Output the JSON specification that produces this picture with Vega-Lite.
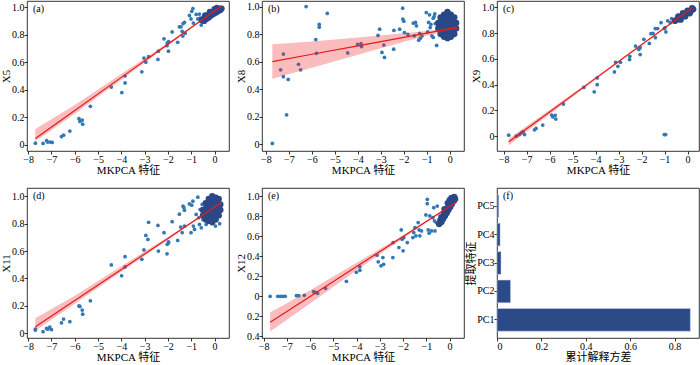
{
"$schema":"https://vega.github.io/schema/vega-lite/v6.json",
"padding":{"left":0,"top":0,"right":0,"bottom":0},
"bounds":"flush",
"columns":3,
"spacing":{"row":37,"column":33},
"config":{
"font":"'Liberation Serif', 'Noto Sans CJK SC', serif",
"view":{"stroke":"#000","strokeWidth":0.8},
"axis":{"domain":false,"grid":false,"tickSize":3,"tickColor":"#000","tickWidth":0.8,"labelFontSize":10,"labelColor":"#000","titleFontSize":11,"titleFontWeight":"normal","titleColor":"#000","labelPadding":0,"titlePadding":0,"labelFont":"'Liberation Serif', serif","titleFont":"'Liberation Serif', 'Noto Sans CJK SC', serif"},
"axisY":{"titlePadding":0},
"title":{"anchor":"start","frame":"group","offset":-13,"dx":6,"fontSize":10,"fontWeight":"normal","color":"#000","font":"'Liberation Serif', serif"}
},
"datasets":{
"ap":[
{"x":-7.69,"y":0.012,"g":"s"},{"x":-7.36,"y":0.01,"g":"s"},{"x":-7.21,"y":0.03,"g":"s"},{"x":-7.16,"y":0.02,"g":"s"},{"x":-7.04,"y":0.02,"g":"s"},{"x":-6.97,"y":0.017,"g":"s"},{"x":-6.57,"y":0.06,"g":"s"},{"x":-6.48,"y":0.07,"g":"s"},{"x":-6.21,"y":0.1,"g":"s"},{"x":-5.82,"y":0.19,"g":"s"},{"x":-5.78,"y":0.17,"g":"s"},{"x":-5.68,"y":0.18,"g":"s"},{"x":-5.66,"y":0.15,"g":"s"},{"x":-5.33,"y":0.28,"g":"s"},{"x":-4.43,"y":0.42,"g":"s"},{"x":-3.98,"y":0.38,"g":"s"},{"x":-3.84,"y":0.5,"g":"s"},{"x":-3.84,"y":0.45,"g":"s"},{"x":-3.12,"y":0.53,"g":"s"},{"x":-3.03,"y":0.63,"g":"s"},{"x":-2.95,"y":0.6,"g":"s"},{"x":-2.83,"y":0.64,"g":"s"},{"x":-2.43,"y":0.62,"g":"s"},{"x":-2.41,"y":0.68,"g":"s"},{"x":-2.17,"y":0.77,"g":"s"},{"x":-2.04,"y":0.72,"g":"s"},{"x":-2.03,"y":0.74,"g":"s"},{"x":-1.98,"y":0.68,"g":"s"},{"x":-1.97,"y":0.75,"g":"s"},{"x":-1.82,"y":0.82,"g":"s"},{"x":-1.58,"y":0.745,"g":"s"},{"x":-1.51,"y":0.857,"g":"s"},{"x":-1.44,"y":0.857,"g":"s"},{"x":-1.39,"y":0.825,"g":"s"},{"x":-1.36,"y":0.79,"g":"s"},{"x":-1.35,"y":0.88,"g":"s"},{"x":-1.29,"y":0.89,"g":"s"},{"x":-1.26,"y":0.81,"g":"s"},{"x":-1.08,"y":0.94,"g":"s"},{"x":-1.01,"y":0.915,"g":"s"},{"x":-0.98,"y":0.97,"g":"s"},{"x":-0.93,"y":0.99,"g":"s"},{"x":-0.91,"y":0.885,"g":"s"},{"x":-0.79,"y":0.947,"g":"s"},{"x":-0.72,"y":0.915,"g":"s"},{"x":-0.62,"y":0.92,"g":"s"},{"x":-0.57,"y":0.87,"g":"s"},{"x":-0.65,"y":0.95,"g":"s"},
{"x":-0.55,"y":0.905,"g":"c"},{"x":-0.45,"y":0.92,"g":"c"},{"x":-0.45,"y":0.9,"g":"c"},{"x":-0.35,"y":0.93,"g":"c"},{"x":-0.35,"y":0.915,"g":"c"},{"x":-0.25,"y":0.945,"g":"c"},{"x":-0.25,"y":0.925,"g":"c"},{"x":-0.15,"y":0.955,"g":"c"},{"x":-0.15,"y":0.94,"g":"c"},{"x":-0.05,"y":0.965,"g":"c"},{"x":-0.05,"y":0.95,"g":"c"},{"x":0.05,"y":0.975,"g":"c"},{"x":0.05,"y":0.96,"g":"c"},{"x":0.15,"y":0.985,"g":"c"},{"x":0.15,"y":0.97,"g":"c"},{"x":0.25,"y":0.99,"g":"c"},{"x":0.25,"y":0.98,"g":"c"},{"x":-0.4,"y":0.94,"g":"c"},{"x":-0.2,"y":0.965,"g":"c"},{"x":0.0,"y":0.985,"g":"c"},{"x":0.1,"y":0.995,"g":"c"},{"x":0.3,"y":0.99,"g":"c"}
],
"af":[
{"x":-7.69,"y":0.046,"lo":0.025,"hi":0.115},{"x":-6,"y":0.25,"lo":0.225,"hi":0.29},{"x":-4,"y":0.49,"lo":0.472,"hi":0.515},{"x":-2,"y":0.731,"lo":0.722,"hi":0.742},{"x":-1,"y":0.852,"lo":0.846,"hi":0.858},{"x":0,"y":0.972,"lo":0.966,"hi":0.978},{"x":0.29,"y":1.007,"lo":1.0,"hi":1.013}
],
"bp":[
{"x":-7.72,"y":0.005,"g":"s"},{"x":-7.36,"y":0.54,"g":"s"},{"x":-7.24,"y":0.49,"g":"s"},{"x":-7.24,"y":0.654,"g":"s"},{"x":-7.1,"y":0.213,"g":"s"},{"x":-7.03,"y":0.47,"g":"s"},{"x":-6.58,"y":0.58,"g":"s"},{"x":-6.49,"y":0.54,"g":"s"},{"x":-6.25,"y":1.0,"g":"s"},{"x":-5.83,"y":0.76,"g":"s"},{"x":-5.8,"y":0.66,"g":"s"},{"x":-5.68,"y":0.87,"g":"s"},{"x":-5.68,"y":0.85,"g":"s"},{"x":-5.33,"y":0.95,"g":"s"},{"x":-4.44,"y":0.663,"g":"s"},{"x":-4.01,"y":0.724,"g":"s"},{"x":-3.86,"y":0.731,"g":"s"},{"x":-3.84,"y":0.709,"g":"s"},{"x":-3.12,"y":0.79,"g":"s"},{"x":-3.05,"y":0.835,"g":"s"},{"x":-2.95,"y":0.666,"g":"s"},{"x":-2.87,"y":0.72,"g":"s"},{"x":-2.84,"y":0.63,"g":"s"},{"x":-2.44,"y":0.69,"g":"s"},{"x":-2.43,"y":0.826,"g":"s"},{"x":-2.18,"y":0.835,"g":"s"},{"x":-2.05,"y":0.988,"g":"s"},{"x":-2.04,"y":0.908,"g":"s"},{"x":-2.0,"y":0.893,"g":"s"},{"x":-1.97,"y":0.811,"g":"s"},{"x":-1.82,"y":0.797,"g":"s"},{"x":-1.58,"y":0.879,"g":"s"},{"x":-1.49,"y":0.884,"g":"s"},{"x":-1.54,"y":0.787,"g":"s"},{"x":-1.45,"y":0.86,"g":"s"},{"x":-1.35,"y":0.755,"g":"s"},{"x":-1.31,"y":0.804,"g":"s"},{"x":-1.28,"y":0.77,"g":"s"},{"x":-1.21,"y":0.785,"g":"s"},{"x":-1.02,"y":0.956,"g":"s"},{"x":-0.96,"y":0.816,"g":"s"},{"x":-0.92,"y":0.884,"g":"s"},{"x":-0.88,"y":0.94,"g":"s"},{"x":-0.85,"y":0.847,"g":"s"},{"x":-0.78,"y":0.787,"g":"s"},{"x":-0.72,"y":0.775,"g":"s"},{"x":-0.68,"y":0.927,"g":"s"},{"x":-0.65,"y":0.947,"g":"s"},{"x":-0.63,"y":0.876,"g":"s"},{"x":-0.57,"y":0.717,"g":"s"},{"x":-0.53,"y":0.86,"g":"s"},{"x":-0.46,"y":0.889,"g":"s"},{"x":-0.82,"y":0.87,"g":"s"},{"x":-0.72,"y":0.915,"g":"s"},
{"x":-0.5,"y":0.84,"g":"c"},{"x":-0.5,"y":0.88,"g":"c"},{"x":-0.4,"y":0.8,"g":"c"},{"x":-0.4,"y":0.84,"g":"c"},{"x":-0.4,"y":0.88,"g":"c"},{"x":-0.4,"y":0.92,"g":"c"},{"x":-0.25,"y":0.78,"g":"c"},{"x":-0.25,"y":0.82,"g":"c"},{"x":-0.25,"y":0.86,"g":"c"},{"x":-0.25,"y":0.9,"g":"c"},{"x":-0.25,"y":0.94,"g":"c"},{"x":-0.1,"y":0.77,"g":"c"},{"x":-0.1,"y":0.81,"g":"c"},{"x":-0.1,"y":0.85,"g":"c"},{"x":-0.1,"y":0.89,"g":"c"},{"x":-0.1,"y":0.93,"g":"c"},{"x":-0.1,"y":0.96,"g":"c"},{"x":0.05,"y":0.78,"g":"c"},{"x":0.05,"y":0.82,"g":"c"},{"x":0.05,"y":0.86,"g":"c"},{"x":0.05,"y":0.9,"g":"c"},{"x":0.05,"y":0.94,"g":"c"},{"x":0.2,"y":0.8,"g":"c"},{"x":0.2,"y":0.84,"g":"c"},{"x":0.2,"y":0.88,"g":"c"},{"x":0.2,"y":0.92,"g":"c"},{"x":0.28,"y":0.84,"g":"c"},{"x":0.28,"y":0.88,"g":"c"}
],
"bf":[
{"x":-7.72,"y":0.6,"lo":0.475,"hi":0.725},{"x":-6,"y":0.653,"lo":0.555,"hi":0.745},{"x":-4,"y":0.714,"lo":0.65,"hi":0.775},{"x":-2,"y":0.776,"lo":0.743,"hi":0.806},{"x":-1,"y":0.806,"lo":0.788,"hi":0.822},{"x":0,"y":0.837,"lo":0.828,"hi":0.846},{"x":0.33,"y":0.847,"lo":0.834,"hi":0.858}
],
"cp":[
{"x":-7.78,"y":0.008,"g":"s"},{"x":-7.45,"y":0.0,"g":"s"},{"x":-7.32,"y":0.013,"g":"s"},{"x":-7.23,"y":0.026,"g":"s"},{"x":-7.16,"y":0.034,"g":"s"},{"x":-7.09,"y":0.013,"g":"s"},{"x":-6.66,"y":0.05,"g":"s"},{"x":-6.59,"y":0.06,"g":"s"},{"x":-6.3,"y":0.086,"g":"s"},{"x":-5.91,"y":0.164,"g":"s"},{"x":-5.86,"y":0.15,"g":"s"},{"x":-5.76,"y":0.162,"g":"s"},{"x":-5.73,"y":0.133,"g":"s"},{"x":-5.4,"y":0.25,"g":"s"},{"x":-4.51,"y":0.379,"g":"s"},{"x":-4.06,"y":0.345,"g":"s"},{"x":-3.93,"y":0.452,"g":"s"},{"x":-3.93,"y":0.4,"g":"s"},{"x":-3.18,"y":0.499,"g":"s"},{"x":-3.13,"y":0.574,"g":"s"},{"x":-3.03,"y":0.543,"g":"s"},{"x":-2.92,"y":0.574,"g":"s"},{"x":-2.52,"y":0.595,"g":"s"},{"x":-2.51,"y":0.62,"g":"s"},{"x":-2.26,"y":0.7,"g":"s"},{"x":-2.12,"y":0.674,"g":"s"},{"x":-2.06,"y":0.687,"g":"s"},{"x":-2.06,"y":0.634,"g":"s"},{"x":-1.9,"y":0.752,"g":"s"},{"x":-1.66,"y":0.72,"g":"s"},{"x":-1.59,"y":0.796,"g":"s"},{"x":-1.5,"y":0.799,"g":"s"},{"x":-1.4,"y":0.765,"g":"s"},{"x":-1.4,"y":0.836,"g":"s"},{"x":-1.3,"y":0.836,"g":"s"},{"x":-1.15,"y":0.882,"g":"s"},{"x":-1.01,"y":0.836,"g":"s"},{"x":-0.98,"y":0.843,"g":"s"},{"x":-0.94,"y":0.81,"g":"s"},{"x":-1.01,"y":0.013,"g":"s"},{"x":-0.95,"y":0.013,"g":"s"},{"x":-0.86,"y":0.896,"g":"s"},{"x":-0.75,"y":0.882,"g":"s"},{"x":-0.69,"y":0.914,"g":"s"},
{"x":-0.55,"y":0.895,"g":"c"},{"x":-0.45,"y":0.907,"g":"c"},{"x":-0.35,"y":0.92,"g":"c"},{"x":-0.25,"y":0.93,"g":"c"},{"x":-0.15,"y":0.94,"g":"c"},{"x":-0.05,"y":0.955,"g":"c"},{"x":0.05,"y":0.965,"g":"c"},{"x":0.15,"y":0.975,"g":"c"},{"x":0.25,"y":0.985,"g":"c"},{"x":-0.4,"y":0.93,"g":"c"},{"x":-0.2,"y":0.955,"g":"c"},{"x":0.0,"y":0.975,"g":"c"},{"x":0.2,"y":0.995,"g":"c"},{"x":-0.3,"y":0.905,"g":"c"},{"x":-0.1,"y":0.93,"g":"c"},{"x":0.1,"y":0.955,"g":"c"}
],
"cf":[
{"x":-7.78,"y":-0.044,"lo":-0.07,"hi":-0.02},{"x":-6,"y":0.188,"lo":0.17,"hi":0.205},{"x":-4,"y":0.449,"lo":0.44,"hi":0.46},{"x":-2,"y":0.71,"lo":0.705,"hi":0.716},{"x":-1,"y":0.84,"lo":0.836,"hi":0.845},{"x":0,"y":0.971,"lo":0.967,"hi":0.975},{"x":0.22,"y":1.0,"lo":0.995,"hi":1.005}
],
"dp":[
{"x":-7.69,"y":0.024,"g":"s"},{"x":-7.69,"y":0.03,"g":"s"},{"x":-7.36,"y":0.012,"g":"s"},{"x":-7.21,"y":0.036,"g":"s"},{"x":-7.16,"y":0.03,"g":"s"},{"x":-7.07,"y":0.046,"g":"s"},{"x":-7.0,"y":0.027,"g":"s"},{"x":-6.57,"y":0.077,"g":"s"},{"x":-6.48,"y":0.104,"g":"s"},{"x":-6.21,"y":0.085,"g":"s"},{"x":-5.82,"y":0.2,"g":"s"},{"x":-5.78,"y":0.196,"g":"s"},{"x":-5.68,"y":0.17,"g":"s"},{"x":-5.66,"y":0.14,"g":"s"},{"x":-5.33,"y":0.237,"g":"s"},{"x":-4.43,"y":0.499,"g":"s"},{"x":-3.99,"y":0.42,"g":"s"},{"x":-3.84,"y":0.559,"g":"s"},{"x":-3.84,"y":0.484,"g":"s"},{"x":-3.12,"y":0.54,"g":"s"},{"x":-3.03,"y":0.608,"g":"s"},{"x":-2.95,"y":0.714,"g":"s"},{"x":-2.86,"y":0.685,"g":"s"},{"x":-2.83,"y":0.81,"g":"s"},{"x":-2.43,"y":0.787,"g":"s"},{"x":-2.41,"y":0.6,"g":"s"},{"x":-2.17,"y":0.734,"g":"s"},{"x":-2.04,"y":0.58,"g":"s"},{"x":-2.03,"y":0.649,"g":"s"},{"x":-1.98,"y":0.668,"g":"s"},{"x":-1.97,"y":0.661,"g":"s"},{"x":-1.82,"y":0.814,"g":"s"},{"x":-1.58,"y":0.678,"g":"s"},{"x":-1.51,"y":0.869,"g":"s"},{"x":-1.45,"y":0.775,"g":"s"},{"x":-1.39,"y":0.734,"g":"s"},{"x":-1.35,"y":0.927,"g":"s"},{"x":-1.32,"y":0.918,"g":"s"},{"x":-1.29,"y":0.782,"g":"s"},{"x":-1.29,"y":0.898,"g":"s"},{"x":-1.08,"y":0.944,"g":"s"},{"x":-1.01,"y":0.734,"g":"s"},{"x":-0.98,"y":0.935,"g":"s"},{"x":-0.93,"y":0.964,"g":"s"},{"x":-0.91,"y":0.782,"g":"s"},{"x":-0.86,"y":0.758,"g":"s"},{"x":-0.79,"y":0.867,"g":"s"},{"x":-0.72,"y":0.993,"g":"s"},{"x":-0.68,"y":0.843,"g":"s"},{"x":-0.65,"y":0.794,"g":"s"},{"x":-0.62,"y":0.903,"g":"s"},{"x":-0.57,"y":0.77,"g":"s"},{"x":-0.53,"y":0.94,"g":"s"},{"x":-0.5,"y":0.83,"g":"s"},{"x":-0.36,"y":0.794,"g":"s"},{"x":-0.14,"y":0.806,"g":"s"},{"x":0.04,"y":0.782,"g":"s"},{"x":0.22,"y":0.8,"g":"s"},
{"x":-0.5,"y":0.86,"g":"c"},{"x":-0.5,"y":0.9,"g":"c"},{"x":-0.38,"y":0.83,"g":"c"},{"x":-0.38,"y":0.87,"g":"c"},{"x":-0.38,"y":0.91,"g":"c"},{"x":-0.38,"y":0.95,"g":"c"},{"x":-0.25,"y":0.82,"g":"c"},{"x":-0.25,"y":0.86,"g":"c"},{"x":-0.25,"y":0.9,"g":"c"},{"x":-0.25,"y":0.94,"g":"c"},{"x":-0.25,"y":0.98,"g":"c"},{"x":-0.1,"y":0.81,"g":"c"},{"x":-0.1,"y":0.85,"g":"c"},{"x":-0.1,"y":0.89,"g":"c"},{"x":-0.1,"y":0.93,"g":"c"},{"x":-0.1,"y":0.97,"g":"c"},{"x":-0.1,"y":1.0,"g":"c"},{"x":0.05,"y":0.83,"g":"c"},{"x":0.05,"y":0.87,"g":"c"},{"x":0.05,"y":0.91,"g":"c"},{"x":0.05,"y":0.95,"g":"c"},{"x":0.05,"y":0.99,"g":"c"},{"x":0.18,"y":0.86,"g":"c"},{"x":0.18,"y":0.9,"g":"c"},{"x":0.18,"y":0.94,"g":"c"},{"x":0.18,"y":0.98,"g":"c"},{"x":0.25,"y":0.9,"g":"c"},{"x":0.25,"y":0.94,"g":"c"}
],
"df":[
{"x":-7.69,"y":0.048,"lo":0.02,"hi":0.11},{"x":-6,"y":0.239,"lo":0.215,"hi":0.275},{"x":-4,"y":0.466,"lo":0.45,"hi":0.49},{"x":-2,"y":0.692,"lo":0.683,"hi":0.703},{"x":-1,"y":0.806,"lo":0.8,"hi":0.813},{"x":0,"y":0.919,"lo":0.912,"hi":0.926},{"x":0.29,"y":0.952,"lo":0.943,"hi":0.96}
],
"ep":[
{"x":-7.72,"y":0.0,"g":"s"},{"x":-7.39,"y":0.0,"g":"s"},{"x":-7.28,"y":0.0,"g":"s"},{"x":-7.17,"y":0.0,"g":"s"},{"x":-7.07,"y":0.0,"g":"s"},{"x":-6.59,"y":0.007,"g":"s"},{"x":-6.49,"y":0.007,"g":"s"},{"x":-6.25,"y":0.01,"g":"s"},{"x":-5.85,"y":0.046,"g":"s"},{"x":-5.78,"y":0.04,"g":"s"},{"x":-5.68,"y":0.03,"g":"s"},{"x":-5.34,"y":0.08,"g":"s"},{"x":-4.44,"y":0.15,"g":"s"},{"x":-4.01,"y":0.24,"g":"s"},{"x":-3.86,"y":0.295,"g":"s"},{"x":-3.86,"y":0.26,"g":"s"},{"x":-3.12,"y":0.41,"g":"s"},{"x":-3.07,"y":0.344,"g":"s"},{"x":-2.95,"y":0.305,"g":"s"},{"x":-2.87,"y":0.387,"g":"s"},{"x":-2.84,"y":0.32,"g":"s"},{"x":-2.44,"y":0.387,"g":"s"},{"x":-2.43,"y":0.536,"g":"s"},{"x":-2.18,"y":0.487,"g":"s"},{"x":-2.08,"y":0.662,"g":"s"},{"x":-2.04,"y":0.57,"g":"s"},{"x":-2.0,"y":0.454,"g":"s"},{"x":-1.97,"y":0.586,"g":"s"},{"x":-1.82,"y":0.536,"g":"s"},{"x":-1.58,"y":0.586,"g":"s"},{"x":-1.54,"y":0.636,"g":"s"},{"x":-1.49,"y":0.685,"g":"s"},{"x":-1.45,"y":0.603,"g":"s"},{"x":-1.35,"y":0.735,"g":"s"},{"x":-1.31,"y":0.662,"g":"s"},{"x":-1.28,"y":0.603,"g":"s"},{"x":-1.21,"y":0.652,"g":"s"},{"x":-1.02,"y":0.811,"g":"s"},{"x":-0.96,"y":0.967,"g":"s"},{"x":-0.96,"y":0.924,"g":"s"},{"x":-0.92,"y":0.662,"g":"s"},{"x":-0.88,"y":0.629,"g":"s"},{"x":-0.85,"y":0.801,"g":"s"},{"x":-0.78,"y":0.652,"g":"s"},{"x":-0.72,"y":0.785,"g":"s"},{"x":-0.68,"y":0.884,"g":"s"},{"x":-0.65,"y":0.752,"g":"s"},{"x":-0.63,"y":0.652,"g":"s"},{"x":-0.57,"y":0.735,"g":"s"},{"x":-0.53,"y":0.9,"g":"s"},{"x":-0.46,"y":0.72,"g":"s"},{"x":-0.42,"y":0.8,"g":"s"},
{"x":-0.45,"y":0.72,"g":"c"},{"x":-0.4,"y":0.76,"g":"c"},{"x":-0.35,"y":0.74,"g":"c"},{"x":-0.33,"y":0.79,"g":"c"},{"x":-0.28,"y":0.77,"g":"c"},{"x":-0.25,"y":0.82,"g":"c"},{"x":-0.2,"y":0.8,"g":"c"},{"x":-0.18,"y":0.85,"g":"c"},{"x":-0.12,"y":0.83,"g":"c"},{"x":-0.1,"y":0.88,"g":"c"},{"x":-0.05,"y":0.86,"g":"c"},{"x":-0.02,"y":0.91,"g":"c"},{"x":0.03,"y":0.89,"g":"c"},{"x":0.05,"y":0.94,"g":"c"},{"x":0.1,"y":0.92,"g":"c"},{"x":0.12,"y":0.97,"g":"c"},{"x":0.17,"y":0.95,"g":"c"},{"x":0.2,"y":0.99,"g":"c"},{"x":0.24,"y":0.97,"g":"c"},{"x":-0.08,"y":0.93,"g":"c"},{"x":0.0,"y":0.96,"g":"c"},{"x":0.08,"y":0.98,"g":"c"},{"x":-0.22,"y":0.87,"g":"c"}
],
"ef":[
{"x":-7.72,"y":-0.258,"lo":-0.35,"hi":-0.16},{"x":-6,"y":-0.001,"lo":-0.07,"hi":0.06},{"x":-4,"y":0.297,"lo":0.26,"hi":0.335},{"x":-2,"y":0.596,"lo":0.58,"hi":0.61},{"x":-1,"y":0.746,"lo":0.738,"hi":0.755},{"x":0,"y":0.895,"lo":0.887,"hi":0.905},{"x":0.3,"y":0.94,"lo":0.93,"hi":0.952}
],
"fb":[
{"pc":"PC1","v":0.871},{"pc":"PC2","v":0.061},{"pc":"PC3","v":0.018},{"pc":"PC4","v":0.014},{"pc":"PC5","v":0.008}
]
},
"concat":[
{"width":202,"height":150,"title":{"text":"(a)"},
"encoding":{"x":{"field":"x","type":"quantitative","scale":{"domain":[-8.05,0.62],"nice":false,"zero":false},"axis":{"title":"MKPCA 特征","values":[-8,-7,-6,-5,-4,-3,-2,-1,0],"labelExpr":"format(datum.value,'d')"}},
"y":{"field":"y","type":"quantitative","scale":{"domain":[-0.045,1.045],"nice":false,"zero":false},"axis":{"title":"X5","values":[0,0.2,0.4,0.6,0.8,1.0],"labelExpr":"datum.value==0?'0':format(datum.value,'.1f')"}}},
"layer":[
{"data":{"name":"ap"},"mark":{"type":"circle","opacity":1},"encoding":{"color":{"field":"g","type":"nominal","scale":{"domain":["s","c"],"range":["#3179b6","#2a4886"]},"legend":null},"size":{"field":"g","type":"nominal","scale":{"domain":["s","c"],"range":[14,40]},"legend":null}}},
{"data":{"name":"af"},"mark":{"type":"area","color":"#ee3030","opacity":0.32},"encoding":{"y":{"field":"lo","type":"quantitative"},"y2":{"field":"hi"}}},
{"data":{"name":"af"},"mark":{"type":"line","color":"#e31a1c","strokeWidth":1.2},"encoding":{}}
]},
{"width":202,"height":150,"title":{"text":"(b)"},
"encoding":{"x":{"field":"x","type":"quantitative","scale":{"domain":[-8.17,0.62],"nice":false,"zero":false},"axis":{"title":"MKPCA 特征","values":[-8,-7,-6,-5,-4,-3,-2,-1,0],"labelExpr":"format(datum.value,'d')"}},
"y":{"field":"y","type":"quantitative","scale":{"domain":[-0.05,1.04],"nice":false,"zero":false},"axis":{"title":"X8","values":[0,0.2,0.4,0.6,0.8,1.0],"labelExpr":"datum.value==0?'0':format(datum.value,'.1f')"}}},
"layer":[
{"data":{"name":"bp"},"mark":{"type":"circle","opacity":1},"encoding":{"color":{"field":"g","type":"nominal","scale":{"domain":["s","c"],"range":["#3179b6","#2a4886"]},"legend":null},"size":{"field":"g","type":"nominal","scale":{"domain":["s","c"],"range":[14,40]},"legend":null}}},
{"data":{"name":"bf"},"mark":{"type":"area","color":"#ee3030","opacity":0.32},"encoding":{"y":{"field":"lo","type":"quantitative"},"y2":{"field":"hi"}}},
{"data":{"name":"bf"},"mark":{"type":"line","color":"#e31a1c","strokeWidth":1.2},"encoding":{}}
]},
{"width":202,"height":150,"title":{"text":"(c)"},
"encoding":{"x":{"field":"x","type":"quantitative","scale":{"domain":[-8.29,0.5],"nice":false,"zero":false},"axis":{"title":"MKPCA 特征","values":[-8,-7,-6,-5,-4,-3,-2,-1,0],"labelExpr":"format(datum.value,'d')"}},
"y":{"field":"y","type":"quantitative","scale":{"domain":[-0.115,1.05],"nice":false,"zero":false},"axis":{"title":"X9","values":[0,0.2,0.4,0.6,0.8,1.0],"labelExpr":"datum.value==0?'0':format(datum.value,'.1f')"}}},
"layer":[
{"data":{"name":"cp"},"mark":{"type":"circle","opacity":1},"encoding":{"color":{"field":"g","type":"nominal","scale":{"domain":["s","c"],"range":["#3179b6","#2a4886"]},"legend":null},"size":{"field":"g","type":"nominal","scale":{"domain":["s","c"],"range":[14,40]},"legend":null}}},
{"data":{"name":"cf"},"mark":{"type":"area","color":"#ee3030","opacity":0.32},"encoding":{"y":{"field":"lo","type":"quantitative"},"y2":{"field":"hi"}}},
{"data":{"name":"cf"},"mark":{"type":"line","color":"#e31a1c","strokeWidth":1.2},"encoding":{}}
]},
{"width":202,"height":150,"title":{"text":"(d)"},
"encoding":{"x":{"field":"x","type":"quantitative","scale":{"domain":[-8.05,0.62],"nice":false,"zero":false},"axis":{"title":"MKPCA 特征","values":[-8,-7,-6,-5,-4,-3,-2,-1,0],"labelExpr":"format(datum.value,'d')"}},
"y":{"field":"y","type":"quantitative","scale":{"domain":[-0.034,1.06],"nice":false,"zero":false},"axis":{"title":"X11","values":[0,0.2,0.4,0.6,0.8,1.0],"labelExpr":"datum.value==0?'0':format(datum.value,'.1f')"}}},
"layer":[
{"data":{"name":"dp"},"mark":{"type":"circle","opacity":1},"encoding":{"color":{"field":"g","type":"nominal","scale":{"domain":["s","c"],"range":["#3179b6","#2a4886"]},"legend":null},"size":{"field":"g","type":"nominal","scale":{"domain":["s","c"],"range":[14,40]},"legend":null}}},
{"data":{"name":"df"},"mark":{"type":"area","color":"#ee3030","opacity":0.32},"encoding":{"y":{"field":"lo","type":"quantitative"},"y2":{"field":"hi"}}},
{"data":{"name":"df"},"mark":{"type":"line","color":"#e31a1c","strokeWidth":1.2},"encoding":{}}
]},
{"width":202,"height":150,"title":{"text":"(e)"},
"encoding":{"x":{"field":"x","type":"quantitative","scale":{"domain":[-8.07,0.62],"nice":false,"zero":false},"axis":{"title":"MKPCA 特征","values":[-8,-7,-6,-5,-4,-3,-2,-1,0],"labelExpr":"format(datum.value,'d')"}},
"y":{"field":"y","type":"quantitative","scale":{"domain":[-0.415,1.08],"nice":false,"zero":false},"axis":{"title":"X12","values":[-0.4,-0.2,0,0.2,0.4,0.6,0.8,1.0],"labelExpr":"datum.value==0?'0':format(abs(datum.value),'.1f')"}}},
"layer":[
{"data":{"name":"ep"},"mark":{"type":"circle","opacity":1},"encoding":{"color":{"field":"g","type":"nominal","scale":{"domain":["s","c"],"range":["#3179b6","#2a4886"]},"legend":null},"size":{"field":"g","type":"nominal","scale":{"domain":["s","c"],"range":[14,40]},"legend":null}}},
{"data":{"name":"ef"},"mark":{"type":"area","color":"#ee3030","opacity":0.32},"encoding":{"y":{"field":"lo","type":"quantitative"},"y2":{"field":"hi"}}},
{"data":{"name":"ef"},"mark":{"type":"line","color":"#e31a1c","strokeWidth":1.2},"encoding":{}}
]},
{"width":202,"height":150,"title":{"text":"(f)"},
"data":{"name":"fb"},
"mark":{"type":"bar","color":"#2c4a87","stroke":"#c9d5ea","strokeWidth":0.5},
"encoding":{
"y":{"field":"pc","type":"nominal","sort":["PC5","PC4","PC3","PC2","PC1"],"scale":{"paddingInner":0.2,"paddingOuter":0.24},"axis":{"title":"提取特征","labelAngle":0}},
"x":{"field":"v","type":"quantitative","scale":{"domain":[0,0.91],"nice":false,"zero":false},"axis":{"title":"累计解释方差","values":[0,0.2,0.4,0.6,0.8],"labelExpr":"datum.value==0?'0':format(datum.value,'.1f')"}}
}}
]
}
